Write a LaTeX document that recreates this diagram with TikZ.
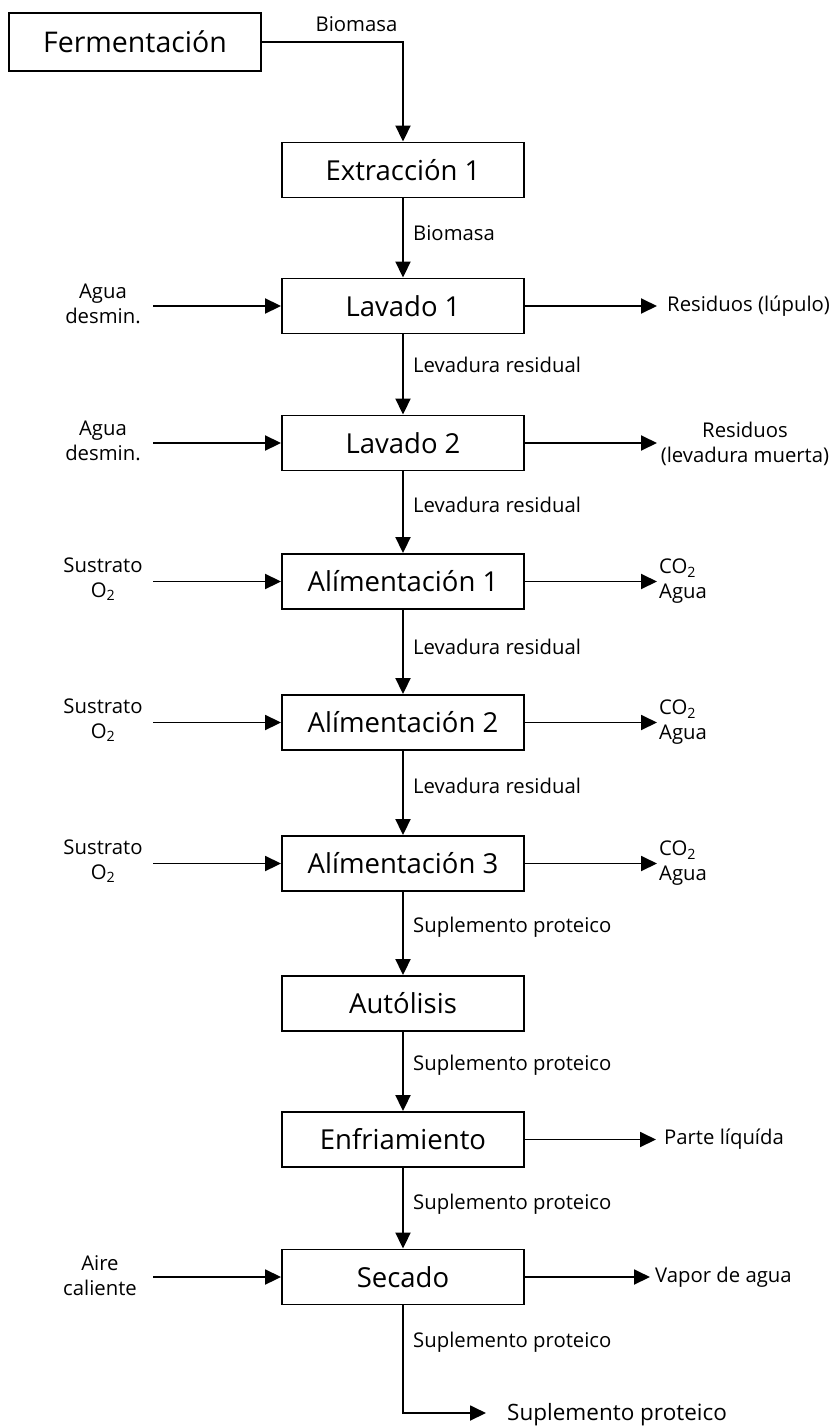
\documentclass[tikz,border=0pt]{standalone}
\usepackage{fontspec}
\setmainfont{Open Sans}
\usetikzlibrary{arrows.meta}
\tikzset{
  box/.style={draw, line width=1.9pt, minimum width=242pt, minimum height=55pt, inner sep=0pt, font=\fontsize{27.5}{33}\selectfont},
  lbl/.style={inner sep=0pt, font=\fontsize{20.3}{25}\selectfont},
  side/.style={lbl, align=center},
  flow/.style={line width=1.9pt, -{Triangle[length=16pt,width=15pt]}},
}
\begin{document}
\begin{tikzpicture}[x=1pt,y=-1pt]
\useasboundingbox (0,0) rectangle (833,1426);
% process boxes
\node[box, minimum width=252pt, minimum height=58pt, font=\fontsize{28.5}{34}\selectfont] (ferm) at (135,42) {Fermentación};
\node[box] (ext)  at (403,170)    {Extracción 1};
\node[box] (lav1) at (403,306)    {Lavado 1};
\node[box] (lav2) at (403,443)    {Lavado 2};
\node[box] (al1)  at (403,581.5)  {Alímentación 1};
\node[box] (al2)  at (403,722.5)  {Alímentación 2};
\node[box] (al3)  at (403,863.5)  {Alímentación 3};
\node[box] (aut)  at (403,1003.5) {Autólisis};
\node[box] (enf)  at (403,1139.5) {Enfriamiento};
\node[box] (sec)  at (403,1277)   {Secado};

% main flow
\draw[flow] (ferm.east) -| (ext.north);
\draw[flow] (ext) -- (lav1);
\draw[flow] (lav1) -- (lav2);
\draw[flow] (lav2) -- (al1);
\draw[flow] (al1) -- (al2);
\draw[flow] (al2) -- (al3);
\draw[flow] (al3) -- (aut);
\draw[flow] (aut) -- (enf);
\draw[flow] (enf) -- (sec);
\coordinate (fin) at (486,1413);
\draw[flow] (sec.south) |- (fin);

% labels on the main flow
\node[lbl] (b1) at (356.5,24) {Biomasa};
\node[lbl, anchor=west] (b2) at (413,233) {Biomasa};
\node[lbl, anchor=west] (l1) at (413,365) {Levadura residual};
\node[lbl, anchor=west] (l2) at (413,505) {Levadura residual};
\node[lbl, anchor=west] (l3) at (413,647) {Levadura residual};
\node[lbl, anchor=west] (l4) at (413,786) {Levadura residual};
\node[lbl, anchor=west] (s1) at (413,927) {Suplemento proteico};
\node[lbl, anchor=west] (s2) at (413,1065) {Suplemento proteico};
\node[lbl, anchor=west] (s3) at (413,1204) {Suplemento proteico};
\node[lbl, anchor=west] (s4) at (413,1342) {Suplemento proteico};
\node[lbl, anchor=west, font=\fontsize{22.5}{26}\selectfont] (sfin) at (507,1415) {Suplemento proteico};

% inputs (left)
\node[side] (in1) at (103,304) {Agua\\desmin.};
\node[side] (in2) at (103,441) {Agua\\desmin.};
\node[side] (in3) at (103,579.5) {Sustrato\\O\textsubscript{2}};
\node[side] (in4) at (103,720.5) {Sustrato\\O\textsubscript{2}};
\node[side] (in5) at (103,861.5) {Sustrato\\O\textsubscript{2}};
\node[side] (in6) at (100,1276) {Aire\\caliente};
\coordinate (i1) at (153,306);
\coordinate (i2) at (153,443);
\coordinate (i3) at (153,581.5);
\coordinate (i4) at (153,722.5);
\coordinate (i5) at (153,863.5);
\coordinate (i6) at (153,1277);
\draw[flow] (i1) -- (lav1.west);
\draw[flow] (i2) -- (lav2.west);
\draw[flow] (i3) -- (al1.west);
\draw[flow] (i4) -- (al2.west);
\draw[flow] (i5) -- (al3.west);
\draw[flow] (i6) -- (sec.west);

% outputs (right)
\coordinate (o1) at (657,306);
\coordinate (o2) at (657,443);
\coordinate (o3) at (657,581.5);
\coordinate (o4) at (657,722.5);
\coordinate (o5) at (657,863.5);
\coordinate (o6) at (656,1139.5);
\coordinate (o7) at (650,1277);
\draw[flow] (lav1.east) -- (o1);
\draw[flow] (lav2.east) -- (o2);
\draw[flow] (al1.east) -- (o3);
\draw[flow] (al2.east) -- (o4);
\draw[flow] (al3.east) -- (o5);
\draw[flow] (enf.east) -- (o6);
\draw[flow] (sec.east) -- (o7);
\node[lbl, anchor=west] (r1) at (667,306) {Residuos (lúpulo)};
\node[side] (r2) at (745,444) {Residuos\\(levadura muerta)};
\node[lbl, anchor=west, align=left] (r3) at (659,581.5) {CO\textsubscript{2}\\Agua};
\node[lbl, anchor=west, align=left] (r4) at (659,722.5) {CO\textsubscript{2}\\Agua};
\node[lbl, anchor=west, align=left] (r5) at (659,863.5) {CO\textsubscript{2}\\Agua};
\node[lbl, anchor=west] (r6) at (664,1139.5) {Parte líquída};
\node[lbl, anchor=west] (r7) at (655,1277) {Vapor de agua};
\end{tikzpicture}
\end{document}
